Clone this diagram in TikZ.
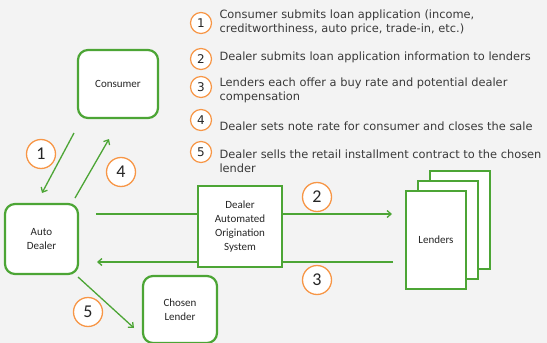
\documentclass[tikz,border=0pt]{standalone}
\usepackage{fontspec}
\setmainfont{DejaVu Sans}
\newfontfamily\boxfont{Carlito}
\usepackage{xcolor}
\usetikzlibrary{calc,arrows.meta}
\definecolor{bg}{HTML}{F3F3F3}
\definecolor{ink}{HTML}{262626}
\definecolor{txt}{HTML}{3A3A3A}
\definecolor{leaf}{HTML}{4CA535}
\definecolor{tang}{HTML}{F79646}
\tikzset{
  party/.style={draw=leaf, fill=white, line width=2.2pt, rounded corners=10pt,
    text=ink, align=center, font=\boxfont\fontsize{11}{14}\selectfont},
  sysbox/.style={draw=leaf, fill=white, line width=1.4pt,
    text=ink, align=center, font=\boxfont\fontsize{11}{14}\selectfont},
  flow/.style={draw=leaf, line width=1.3pt},
  tip/.style={-{Straight Barb[length=4pt,width=7pt]}},
  num/.style={circle, draw=tang, fill=white, line width=1.3pt, minimum size=29pt,
    inner sep=0pt, text=ink, font=\boxfont\fontsize{18}{18}\selectfont},
  numsm/.style={circle, draw=tang, fill=white, line width=1.2pt, minimum size=21pt,
    inner sep=0pt, text=ink, font=\fontsize{12}{12}\selectfont},
  item/.style={anchor=west, align=left, text=txt, font=\fontsize{11.4}{14}\selectfont},
}
\begin{document}
\begin{tikzpicture}[x=1pt,y=-1pt]
  \fill[bg] (0,0) rectangle (547,343);
  \useasboundingbox (0,0) rectangle (547,343);

  % parties
  \node[party, minimum width=80pt, minimum height=68pt] (consumer) at (118,84) {Consumer};
  \node[party, minimum width=73pt, minimum height=70pt] (dealer) at (41.5,239) {Auto\\Dealer};
  \node[party, minimum width=74pt, minimum height=67pt] (chosen) at (180,309.5) {Chosen\\Lender};
  \node[sysbox, minimum width=84pt, minimum height=81pt] (daos) at (240,226.5)
    {Dealer\\Automated\\Origination\\System};

  % lenders stack
  \node[sysbox, minimum width=60pt, minimum height=98pt] (lend3) at (460,220) {};
  \node[sysbox, minimum width=60pt, minimum height=98pt] (lend2) at (448,230) {};
  \node[sysbox, minimum width=60pt, minimum height=98pt] (lenders) at (436,240) {Lenders};

  % connector ends
  \coordinate (p1a) at (74,133);
  \coordinate (p1b) at (42,193);
  \coordinate (p4a) at (75,198);
  \coordinate (p4b) at (109,139);
  \coordinate (p5a) at (78,277);
  \coordinate (p5b) at (134,328);
  \coordinate (p2a) at (96,214);
  \coordinate (p2b) at (392,214);
  \coordinate (p3a) at (393,262);
  \coordinate (p3b) at (97,262);

  \draw[flow,tip] (p1a) -- (p1b);
  \draw[flow,tip] (p4a) -- (p4b);
  \draw[flow,tip] (p5a) -- (p5b);
  \draw[flow] (p2a) -- (p2a -| daos.west);
  \draw[flow,tip] (p2a -| daos.east) -- (p2b);
  \draw[flow] (p3a) -- (p3a -| daos.east);
  \draw[flow,tip] (p3a -| daos.west) -- (p3b);

  % step numbers
  \node[num] (n1) at (41,154) {1};
  \node[num] (n4) at (121,172) {4};
  \node[num] (n5) at (88,312) {5};
  \node[num] (n2) at (317,197) {2};
  \node[num] (n3) at (317,280) {3};

  % legend
  \node[numsm] (k1) at (201,23) {1};
  \node[numsm] (k2) at (201,59) {2};
  \node[numsm] (k3) at (201,87) {3};
  \node[numsm] (k4) at (201,120) {4};
  \node[numsm] (k5) at (201,152) {5};
  \node[item] (t1) at (216,22) {Consumer submits loan application (income,\\creditworthiness, auto price, trade-in, etc.)};
  \node[item] (t2) at (216,57) {Dealer submits loan application information to lenders};
  \node[item] (t3) at (216,90.5) {Lenders each offer a buy rate and potential dealer\\compensation};
  \node[item] (t4) at (216,126) {Dealer sets note rate for consumer and closes the sale};
  \node[item] (t5) at (216,161) {Dealer sells the retail installment contract to the chosen\\lender};
\end{tikzpicture}
\end{document}
